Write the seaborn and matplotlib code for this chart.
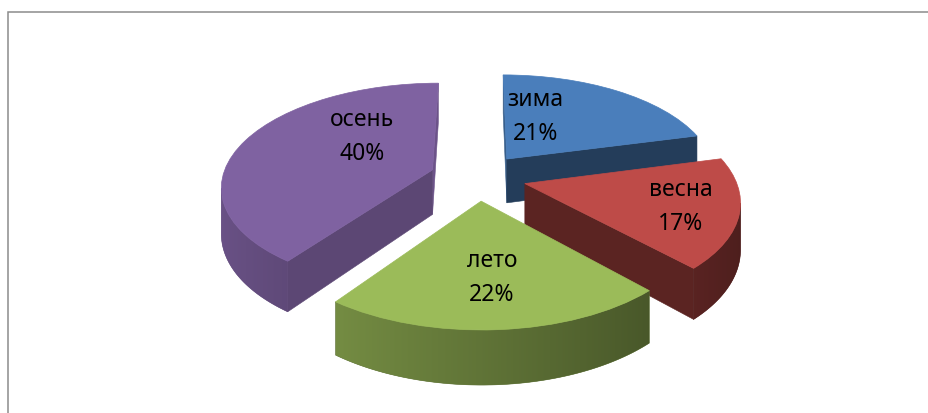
import numpy as np
import matplotlib
matplotlib.use("Agg")
import matplotlib.pyplot as plt
import matplotlib.transforms as mtransforms
import matplotlib.colors as mcolors
from matplotlib.patches import Polygon, Rectangle
from matplotlib.path import Path
import seaborn as sns

# ---------------- data ----------------
categories = ["зима", "весна", "лето", "осень"]
shares = [21, 17, 22, 40]
colors = ["#4a7ebb", "#be4b48", "#9bbb59", "#7f62a1"]

# ---------------- layout ----------------
W, H = 929, 414
CX, CY = 478.0, 236.0      # pixel position of the (unexploded) pie centre, y up
SX, SY = 210.0, 101.6      # horizontal / vertical scale of the tilted disc
DEPTH = 45.0               # thickness of the pie in pixels
D = 6.71                   # perspective distance (plane units)
EXPLODE = 0.23
# label anchor offsets (plane units) relative to each exploded slice centre
LABEL_OFFSETS = [(0.157, 0.466), (0.705, -0.219), (0.044, -0.636), (-0.368, 0.347)]


def project(u, v, z=0.0):
    u = np.asarray(u, float)
    v = np.asarray(v, float)
    z = np.asarray(z, float)
    k = D / (D + v)
    return CX + SX * u * k, CY + SY * v * k + DEPTH * z * k


class Perspective(mtransforms.Transform):
    input_dims = output_dims = 2

    def __init__(self, z=0.0):
        super().__init__()
        self.z = z

    def transform_non_affine(self, values):
        values = np.asarray(values, float)
        x, y = project(values[:, 0], values[:, 1], self.z)
        return np.column_stack([x, y])

    def transform_path_non_affine(self, path):
        return Path(self.transform_non_affine(path.vertices), path.codes)


def curve_shade(nx):
    return np.clip(0.62 - 0.22 * nx, 0.35, 0.9)


def radial_shade(nx, ny):
    return np.clip(0.875 + 0.13 * nx + 0.44 * ny, 0.35, 0.85)


sns.set_theme(style="white")
plt.rcParams["font.family"] = ["Noto Sans", "DejaVu Sans"]

fig = plt.figure(figsize=(W / 100, H / 100), dpi=100)
ax = fig.add_axes([0, 0, 1, 1])
wedges, _ = ax.pie(shares, colors=colors, startangle=90, counterclock=False,
                   explode=[EXPLODE] * len(shares), radius=1, center=(0, 0),
                   wedgeprops=dict(linewidth=0))
ax.set_aspect("auto")
ax.axis("off")

# ---------------- side walls ----------------
cam = np.array([0.0, -D])
faces = []   # (depth key, kind, payload)
for w, col in zip(wedges, colors):
    c0 = np.array(w.center, float)
    r, t1, t2 = w.r, w.theta1, w.theta2
    base = np.array(mcolors.to_rgb(col))
    # curved outer wall: visible angular range
    th = np.radians(np.linspace(t1, t2, 721))
    nrm = np.column_stack([np.cos(th), np.sin(th)])
    pts = c0 + r * nrm
    vis = np.einsum("ij,ij->i", cam - pts, nrm) > 0
    if vis.sum() > 1:
        thv = th[vis]
        us = c0[0] + r * np.cos(thv)
        vs = c0[1] + r * np.sin(thv)
        Xt, Yt = project(us, vs, 0.0)
        Xb, Yb = project(us, vs, -1.0)
        poly = np.vstack([np.column_stack([Xt, Yt]),
                          np.column_stack([Xb, Yb])[::-1]])
        shades = curve_shade(np.cos(thv))[:, None] * base[None, :]
        faces.append((vs.mean(), "curve", (poly, Xt, shades)))
    # flat radial walls
    for ang, nang in ((t1, t1 - 90), (t2, t2 + 90)):
        n = np.array([np.cos(np.radians(nang)), np.sin(np.radians(nang))])
        e = c0 + r * np.array([np.cos(np.radians(ang)), np.sin(np.radians(ang))])
        mid = 0.5 * (c0 + e)
        if np.dot(cam - mid, n) <= 0:
            continue
        X, Y = project([c0[0], e[0], e[0], c0[0]], [c0[1], e[1], e[1], c0[1]],
                       np.array([0, 0, -1, -1]))
        faces.append((mid[1], "flat",
                      (np.column_stack([X, Y]), base * radial_shade(*n))))

faces.sort(key=lambda t: -t[0])
z = 2.0
for key, kind, payload in faces:
    z += 0.01
    if kind == "flat":
        xy, c = payload
        ax.add_patch(Polygon(xy, closed=True, facecolor=c, edgecolor=c,
                             linewidth=0.4, zorder=z))
    else:
        poly, Xt, shades = payload
        meanc = shades.mean(axis=0)
        patch = Polygon(poly, closed=True, facecolor=meanc, edgecolor=meanc,
                        linewidth=0.4, zorder=z)
        ax.add_patch(patch)
        order = np.argsort(Xt)
        xs = np.linspace(Xt.min(), Xt.max(), 400)
        grad = np.stack([np.interp(xs, Xt[order], shades[order, k]) for k in range(3)],
                        axis=-1)[None, :, :]
        im = ax.imshow(grad, extent=(xs[0], xs[-1], poly[:, 1].min() - 1,
                                     poly[:, 1].max() + 1),
                       aspect="auto", interpolation="bilinear", origin="lower",
                       zorder=z + 0.001)
        im.set_clip_path(patch)

# ---------------- top faces (pie wedges in perspective) ----------------
for w, col in zip(wedges, colors):
    w.set_transform(Perspective(0.0) + ax.transData)
    w.set_edgecolor(col)
    w.set_linewidth(0.5)
    w.set_zorder(3)

# ---------------- labels ----------------
total = float(sum(shares))
for w, name, val, (dx, dy) in zip(wedges, categories, shares, LABEL_OFFSETS):
    x, y = project(w.center[0] + dx, w.center[1] + dy, 0.0)
    ax.text(float(x), float(y) + 1, f"{name}\n{round(val / total * 100)}%",
            ha="center", va="center", fontsize=16.5, linespacing=1.6,
            color="black", zorder=5)

# chart area border
ax.add_patch(Rectangle((8.5, -20), 1000, H - 12.5 + 20, fill=False,
                       edgecolor="#8c8c8c", linewidth=1.1, zorder=6))

ax.set_xlim(0, W)
ax.set_ylim(0, H)
fig.savefig("out.png", dpi=100)
